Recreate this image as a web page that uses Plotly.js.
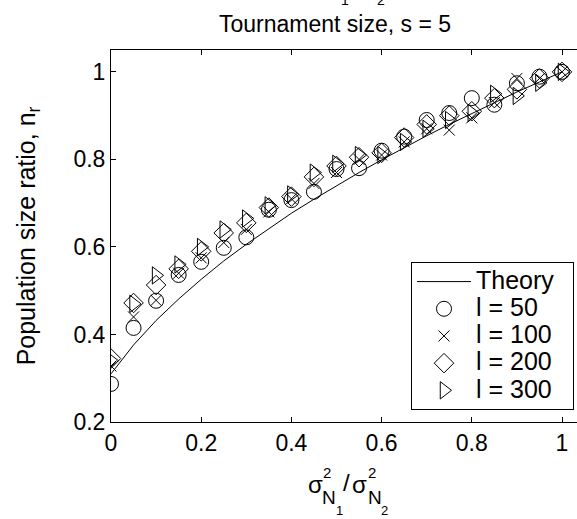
<!DOCTYPE html>
<html>
<head>
<meta charset="utf-8">
<script src="https://cdn.plot.ly/plotly-3.0.1.min.js"></script>
<style>html,body{margin:0;padding:0;background:#fff;}#chart{width:577px;height:519px;}</style>
</head>
<body>
<div id="chart"></div>
<script>
// Data
var xVals = [0, 0.05, 0.1, 0.15, 0.2, 0.25, 0.3, 0.35, 0.4, 0.45, 0.5, 0.55, 0.6, 0.65, 0.7, 0.75, 0.8, 0.85, 0.9, 0.95, 1];
var theory = [0.310, 0.376, 0.432, 0.481, 0.526, 0.568, 0.606, 0.642, 0.677, 0.709, 0.740, 0.770, 0.799, 0.827, 0.854, 0.880, 0.905, 0.930, 0.954, 0.977, 1.000];
var l50  = [0.287, 0.415, 0.477, 0.536, 0.566, 0.598, 0.622, 0.685, 0.707, 0.726, 0.778, 0.780, 0.820, 0.852, 0.890, 0.906, 0.940, 0.925, 0.974, 0.989, 1.000];
var l100 = [0.328, 0.440, 0.478, 0.540, 0.575, 0.610, 0.640, 0.680, 0.710, 0.745, 0.770, 0.800, 0.810, 0.840, 0.870, 0.867, 0.895, 0.930, 0.985, 0.985, 1.000];
var l200 = [0.345, 0.472, 0.513, 0.550, 0.590, 0.632, 0.655, 0.690, 0.715, 0.760, 0.785, 0.805, 0.815, 0.850, 0.880, 0.900, 0.910, 0.940, 0.960, 0.985, 1.000];
var l300 = [0.340, 0.470, 0.535, 0.560, 0.600, 0.640, 0.665, 0.695, 0.720, 0.770, 0.790, 0.810, 0.810, 0.840, 0.870, 0.890, 0.906, 0.950, 0.945, 0.975, 1.000];
var seriesNames = ["Theory", "l = 50", "l = 100", "l = 200", "l = 300"];

var W = 577, H = 519, L = 111, T = 50, B = 422;
function px(x){ return (x - L) / (W - L); }
function py(y){ return (B - y) / (B - T); }

var font = "Liberation Sans, Arial, Helvetica, sans-serif";
function mk(sym, size){
  return {symbol: sym, size: size, color: "#000", line: {color: "#000", width: 1}};
}
function legName(s){ return "<span style=\"font-size:25px\">" + s + "&nbsp;&nbsp;</span>"; }
var traces = [
  {x: xVals, y: theory, name: legName(seriesNames[0]), mode: "lines", line: {color: "#000", width: 1}},
  {x: xVals, y: l50, name: legName(seriesNames[1]), mode: "markers", marker: mk("circle-open", 15)},
  {x: xVals, y: l100, name: legName(seriesNames[2]), mode: "markers", marker: mk("x-thin-open", 11)},
  {x: xVals, y: l200, name: legName(seriesNames[3]), mode: "markers", marker: mk("diamond-open", 15)},
  {x: xVals, y: l300, name: legName(seriesNames[4]), mode: "markers", marker: mk("triangle-right-open", 15)}
];

function ann(t, x, y, size){
  return {text: t, x: px(x), y: py(y), xref: "paper", yref: "paper", xanchor: "center", yanchor: "middle",
          showarrow: false, font: {family: font, size: size, color: "#000"}};
}
var annotations = [
  ann("σ", 315, 484, 24), ann("2", 326.7, 472.5, 15), ann("N", 329, 497.5, 19), ann("1", 339, 510.5, 13),
  ann("/", 346.5, 482, 24),
  ann("σ", 359, 484, 24), ann("2", 372, 472.5, 15), ann("N", 375, 497.5, 19), ann("2", 384, 510.5, 13),
  ann("1", 345, 0, 14), ann("2", 381, 0, 14)
];

var layout = {
  width: W, height: H,
  margin: {l: L, r: 0, t: T, b: H - B, pad: 0},
  paper_bgcolor: "#fff", plot_bgcolor: "#fff",
  font: {family: font, size: 23, color: "#000"},
  showlegend: true,
  title: {text: "Tournament size, s = 5", x: 335 / W, xref: "container", xanchor: "center",
          y: 1 - 24 / H, yref: "container", yanchor: "middle", font: {family: font, size: 23, color: "#000"}},
  xaxis: {range: [0, (W - L) / 451], tickvals: [0, 0.2, 0.4, 0.6, 0.8, 1], ticktext: ["0", "0.2", "0.4", "0.6", "0.8", "1"],
          ticks: "inside", ticklen: 5, tickcolor: "#000", showline: true, linecolor: "#000", linewidth: 1,
          mirror: "ticks", showgrid: false, zeroline: false, tickfont: {size: 23}},
  yaxis: {range: [0.2, 1.05], tickvals: [0.2, 0.4, 0.6, 0.8, 1], ticktext: ["0.2", "0.4", "0.6", "0.8", "1"],
          ticks: "inside", ticklen: 5, tickcolor: "#000", showline: true, linecolor: "#000", linewidth: 1,
          mirror: false, showgrid: false, zeroline: false, tickfont: {size: 23},
          title: {text: "Population size ratio, n<sub>r</sub>", standoff: 30, font: {size: 25}}},
  legend: {x: px(411), y: py(262), xanchor: "left", yanchor: "top", bgcolor: "#fff", bordercolor: "#000", borderwidth: 1,
           font: {family: font, size: 18.6, color: "#000"}, tracegroupgap: 0, itemwidth: 54},
  annotations: annotations
};

Plotly.newPlot("chart", traces, layout, {displayModeBar: false, staticPlot: true});
</script>
</body>
</html>
